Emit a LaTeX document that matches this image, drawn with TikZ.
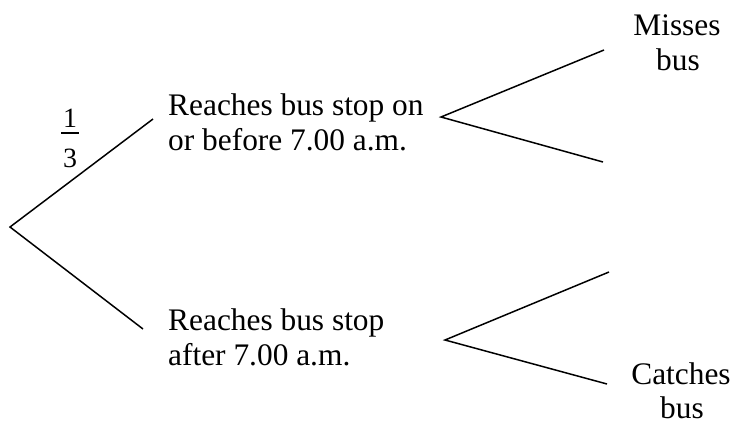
\documentclass[tikz,border=0pt]{standalone}
\usepackage{fontspec}
\setmainfont{Liberation Serif}
\begin{document}
\begin{tikzpicture}[x=1bp,y=-1bp,
  branch/.style={line width=1.5pt},
  lbl/.style={inner sep=0pt,font=\fontsize{31.5}{35}\selectfont},
  digit/.style={inner sep=0pt,font=\fontsize{28}{30}\selectfont}]
\useasboundingbox (0,0) rectangle (733,425);
% coordinates
\coordinate (root) at (10,227);
\coordinate (ue) at (153,119);
\coordinate (le) at (143,329);
\coordinate (ur) at (441,117);
\coordinate (uu) at (604,50);
\coordinate (ud) at (603,162);
\coordinate (lr) at (445,340);
\coordinate (lu) at (609,272);
\coordinate (ld) at (607,384);
% texts
\node[lbl,anchor=base west] (U1) at (168,115) {Reaches bus stop on};
\node[lbl,anchor=base west] (U2) at (168,150) {or before 7.00 a.m.};
\node[lbl,anchor=base west] (L1) at (168,330) {Reaches bus stop};
\node[lbl,anchor=base west] (L2) at (168,365) {after 7.00 a.m.};
\node[lbl,anchor=base] (M1) at (677,35) {Misses};
\node[lbl,anchor=base] (M2) at (678,70) {bus};
\node[lbl,anchor=base] (C1) at (681,384) {Catches};
\node[lbl,anchor=base] (C2) at (682,418) {bus};
% fraction 1/3
\node[digit,anchor=base] (num) at (70,127) {1};
\node[digit,anchor=base] (den) at (70,167) {3};
\coordinate (barL) at (61,133);
\coordinate (barR) at (79,133);
\draw[line width=1.3pt] (barL) -- (barR);
% branches
\draw[branch] (ue) -- (root) -- (le);
\draw[branch] (uu) -- (ur) -- (ud);
\draw[branch] (lu) -- (lr) -- (ld);
\end{tikzpicture}
\end{document}
